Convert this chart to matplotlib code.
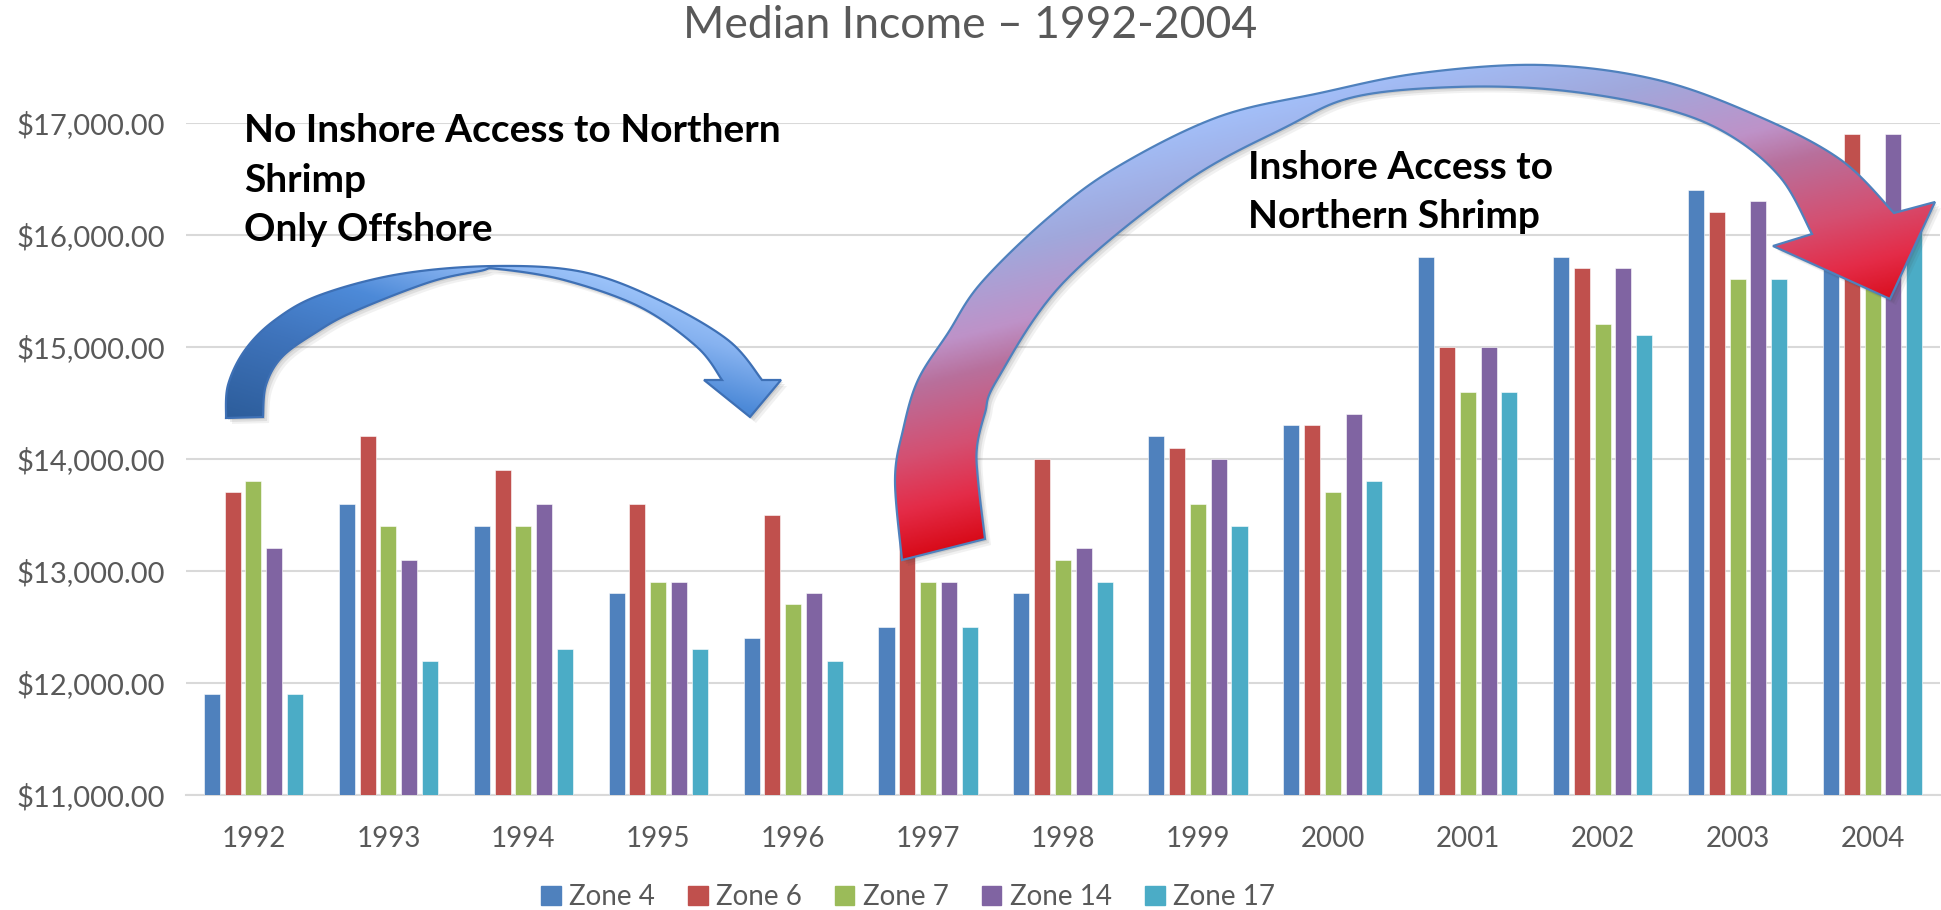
import numpy as np
import matplotlib.pyplot as plt
from matplotlib.path import Path
from matplotlib.patches import PathPatch, Patch
from matplotlib.colors import LinearSegmentedColormap
from matplotlib.ticker import FuncFormatter

plt.rcParams['font.family'] = ['Lato', 'DejaVu Sans']

# data
years = ['1992', '1993', '1994', '1995', '1996', '1997', '1998',
         '1999', '2000', '2001', '2002', '2003', '2004']
zone4 = [11900, 13600, 13400, 12800, 12400, 12500, 12800, 14200, 14300, 15800, 15800, 16400, 16000]
zone6 = [13700, 14200, 13900, 13600, 13500, 13400, 14000, 14100, 14300, 15000, 15700, 16200, 16900]
zone7 = [13800, 13400, 13400, 12900, 12700, 12900, 13100, 13600, 13700, 14600, 15200, 15600, 15700]
zone14 = [13200, 13100, 13600, 12900, 12800, 12900, 13200, 14000, 14400, 15000, 15700, 16300, 16900]
zone17 = [11900, 12200, 12300, 12300, 12200, 12500, 12900, 13400, 13800, 14600, 15100, 15600, 16100]
series = ['Zone 4', 'Zone 6', 'Zone 7', 'Zone 14', 'Zone 17']
colors = ['#4F81BD', '#C0504D', '#9BBB59', '#8064A2', '#4BACC6']

W, H = 1941, 910
fig = plt.figure(figsize=(W / 100, H / 100), dpi=100)
ax = fig.add_axes([186 / W, 1 - 795 / H, (1940 - 186) / W, (795 - 122.5) / H])

x = np.arange(len(years))
pitch, bw = 0.154, 0.119
for i, vals in enumerate([zone4, zone6, zone7, zone14, zone17]):
    ax.bar(x + (i - 2) * pitch, np.array(vals) - 11000, bw, bottom=11000,
           color=colors[i], edgecolor='white', linewidth=0.4, zorder=3)

ax.set_xlim(-0.5, len(years) - 0.5)
ax.set_ylim(11000, 17000)
ax.set_yticks(np.arange(11000, 17001, 1000))
ax.yaxis.set_major_formatter(FuncFormatter(lambda v, p: '${:,.2f}'.format(v)))
ax.set_xticks(x)
ax.set_xticklabels(years)
ax.grid(axis='y', color='#D9D9D9', linewidth=1.5, zorder=0)
for s in ['top', 'right', 'left']:
    ax.spines[s].set_visible(False)
ax.spines['bottom'].set_color('#D9D9D9')
ax.spines['bottom'].set_linewidth(1.5)
ax.tick_params(length=0, labelsize=20, labelcolor='#595959')
ax.tick_params(axis='y', labelsize=21, pad=15)
ax.tick_params(axis='x', pad=22)

fig.text(970 / W, 1 - 25 / H, 'Median Income \u2013 1992-2004', ha='center', va='center',
         fontsize=32, color='#595959')

handles = [Patch(color=c) for c in colors]
fig.legend(handles, series, loc='center', bbox_to_anchor=(908 / W, 1 - 897 / H), ncol=5,
           frameon=False, fontsize=20, labelcolor='#595959', handlelength=0.7,
           handleheight=0.7, handletextpad=0.3, columnspacing=1.2)

# overlay in pixel coordinates for the arrows and notes
ov = fig.add_axes([0, 0, 1, 1], zorder=5)
ov.patch.set_alpha(0)
ov.axis('off')


def smooth(pts, n=14):
    pts = np.array(pts, float)
    p = np.vstack([pts[0], pts, pts[-1]])
    out = []
    for i in range(1, len(p) - 2):
        p0, p1, p2, p3 = p[i - 1], p[i], p[i + 1], p[i + 2]
        for t in np.linspace(0, 1, n, endpoint=False):
            out.append(0.5 * (2 * p1 + (-p0 + p2) * t + (2 * p0 - 5 * p1 + 4 * p2 - p3) * t ** 2
                              + (-p0 + 3 * p1 - 3 * p2 + p3) * t ** 3))
    out.append(pts[-1])
    return np.array(out)


def arrow(outer, head, inner, cmap, grad, edge):
    verts = np.vstack([smooth(outer), np.array(head, float), smooth(inner)])
    path = Path(np.vstack([verts, verts[:1]]), closed=True)
    # soft shadow
    for off, a in [(6, 0.07), (4, 0.1), (2, 0.12)]:
        ov.add_patch(PathPatch(Path(path.vertices + [off, off]), fc='#404040', ec='none',
                               alpha=a, zorder=1))
    x0, y0 = verts.min(axis=0) - 2
    x1, y1 = verts.max(axis=0) + 2
    X, Y = np.meshgrid(np.linspace(x0, x1, 400), np.linspace(y0, y1, 400))
    t = np.clip(grad(X, Y), 0, 1)
    im = ov.imshow(cmap(t), extent=(x0, x1, y1, y0), origin='upper', aspect='auto',
                   interpolation='bilinear', zorder=2)
    pp = PathPatch(path, fc='none', ec=edge, lw=1.6, zorder=3)
    ov.add_patch(pp)
    im.set_clip_path(pp)


blue_cmap = LinearSegmentedColormap.from_list(
    'b', [(0, '#2B5B98'), (0.4, '#3F74BC'), (0.65, '#4D8AD8'), (0.85, '#86B2F0'), (1, '#A0C6FB')])
red_cmap = LinearSegmentedColormap.from_list(
    'r', [(0, '#A3C4FF'), (0.25, '#A0A8DC'), (0.45, '#BE92C8'), (0.55, '#B8709C'),
          (0.73, '#D45072'), (0.87, '#E42C48'), (1, '#D80A18')])

arrow(outer=[(226, 418), (228, 385), (245, 350), (275, 320), (320, 295), (400, 274), (495, 266),
             (583, 272), (659, 300), (728, 340), (762, 380)],
      head=[(781, 380), (750, 417), (704, 380)],
      inner=[(722, 380), (697, 347), (640, 307), (564, 280), (498, 269), (480, 271), (430, 282),
             (353, 312), (315, 333), (282, 357), (266, 385), (263, 417)],
      cmap=blue_cmap, grad=lambda X, Y: (-Y + 0.3 * X + 360) / 270, edge='#3E70B5')

arrow(outer=[(902, 560), (895, 480), (903, 430), (918, 380), (948, 333), (981, 283), (1049, 217),
             (1117, 167), (1218, 117), (1320, 93), (1421, 73), (1543, 65), (1658, 80),
             (1760, 117), (1841, 160), (1894, 213)],
      head=[(1935, 202), (1890, 299), (1773, 246)],
      inner=[(1812, 234), (1780, 177), (1726, 133), (1658, 107), (1557, 90), (1455, 87),
             (1354, 97), (1286, 127), (1184, 183), (1063, 283), (997, 380), (985, 413),
             (977, 447), (978, 480), (985, 539)],
      cmap=red_cmap, grad=lambda X, Y: (0.25 * X + 0.97 * Y - 400) / 370, edge='#4F81BD')

ov.text(244, 180, 'No Inshore Access to Northern\nShrimp\nOnly Offshore', ha='left', va='center',
        fontsize=28, fontweight='bold', color='black', linespacing=1.5, zorder=6)
ov.text(1248, 192, 'Inshore Access to\nNorthern Shrimp', ha='left', va='center',
        fontsize=28, fontweight='bold', color='black', linespacing=1.5, zorder=6)

ov.set_xlim(0, W)
ov.set_ylim(H, 0)

fig.savefig('out.png', dpi=100)
